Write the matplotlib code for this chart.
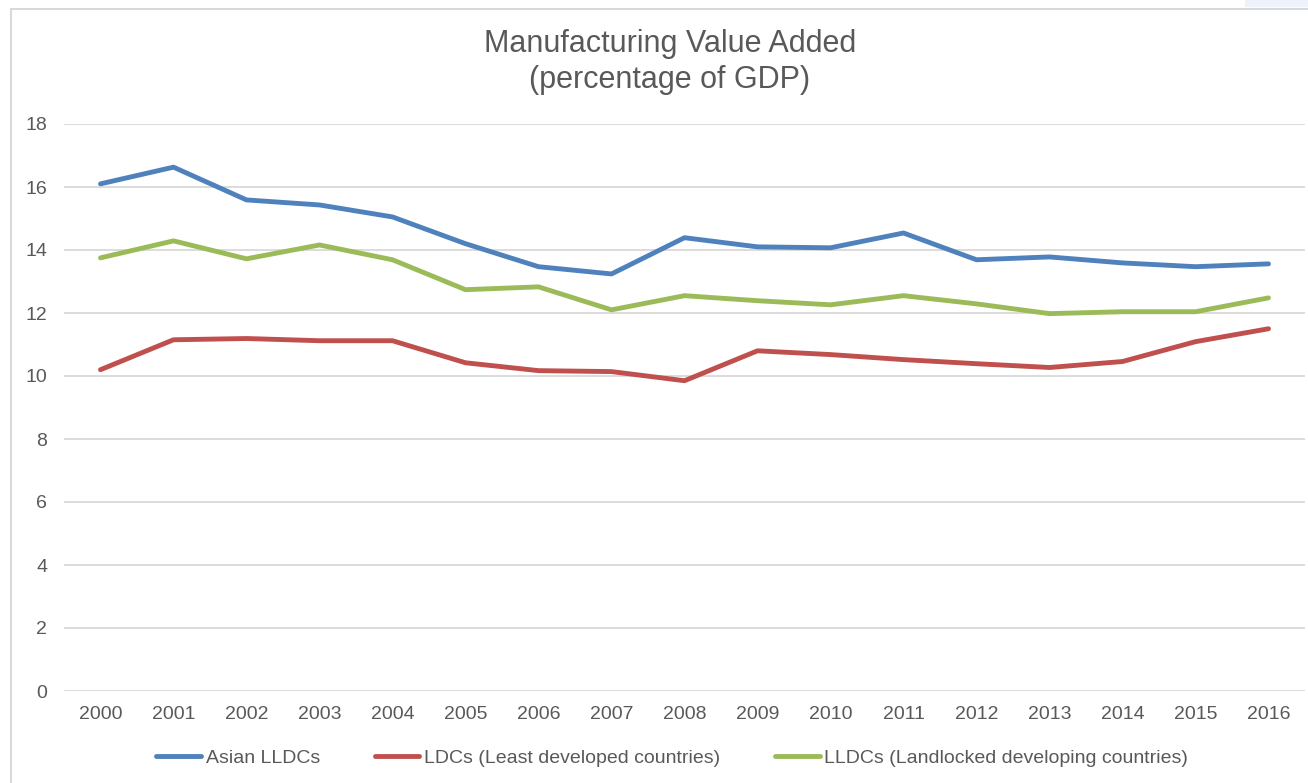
import numpy as np
import matplotlib.pyplot as plt
from matplotlib.patches import Rectangle

plt.rcParams['font.family'] = ['Liberation Sans', 'DejaVu Sans']

years = [str(y) for y in range(2000, 2017)]
asian_lldcs = [16.10, 16.63, 15.59, 15.43, 15.05, 14.20, 13.47, 13.24, 14.39,
               14.10, 14.07, 14.54, 13.69, 13.78, 13.59, 13.47, 13.56]
ldcs = [10.20, 11.15, 11.19, 11.12, 11.12, 10.42, 10.17, 10.14, 9.85,
        10.80, 10.68, 10.52, 10.39, 10.27, 10.46, 11.09, 11.50]
lldcs = [13.75, 14.29, 13.72, 14.16, 13.69, 12.74, 12.83, 12.10, 12.55,
         12.39, 12.26, 12.55, 12.29, 11.98, 12.04, 12.04, 12.48]
series_names = ['Asian LLDCs', 'LDCs (Least developed countries)',
                'LLDCs (Landlocked developing countries)']

TEXT = '#595959'
GRID = '#d9d9d9'
colors = ['#4f81bd', '#c0504d', '#9bbb59']

fig = plt.figure(figsize=(13.08, 7.83), dpi=100)
fig.patch.set_facecolor('white')

# outer chart frame
fig.patches.append(Rectangle((10.5 / 1308, -0.05), 1.2, 1.05 - 8.5 / 783,
                             transform=fig.transFigure, fill=False,
                             edgecolor=GRID, lw=1.5, zorder=0))
fig.patches.append(Rectangle((1245 / 1308, 1 - 7 / 783), 1.0, 0.02,
                             transform=fig.transFigure, facecolor='#eef2fb',
                             edgecolor='none', zorder=0))

ax = fig.add_axes([64 / 1308, 1 - 691 / 783, 1241 / 1308, 567 / 783])
x = np.arange(len(years))
for vals, name, c in zip([asian_lldcs, ldcs, lldcs], series_names, colors):
    ax.plot(x, vals, color=c, lw=3.5, label=name,
            solid_capstyle='round', solid_joinstyle='round', zorder=3)

ax.set_xlim(-0.5, len(years) - 0.5)
ax.set_ylim(0, 18)
ax.set_yticks(np.arange(0, 19, 2))
ax.set_xticks(x)
ax.set_xticklabels(years)
ax.grid(axis='y', color=GRID, lw=1.3)
ax.set_axisbelow(True)
for s in ax.spines.values():
    s.set_visible(False)
ax.tick_params(axis='both', length=0, labelsize=14, labelcolor=TEXT)
ax.tick_params(axis='y', pad=12)
ax.tick_params(axis='x', pad=11)

fig.text(0.512, 1 - 62 / 783, 'Manufacturing Value Added\n(percentage of GDP)',
         ha='center', va='center', fontsize=22, color=TEXT, linespacing=1.3)

leg = fig.legend(loc='center', bbox_to_anchor=(0.514, 1 - 758 / 783), ncol=3,
                 frameon=False, fontsize=14, handlelength=2.3,
                 handletextpad=0.25, columnspacing=2.8, labelcolor=TEXT)

fig.savefig('out.png', dpi=100)
